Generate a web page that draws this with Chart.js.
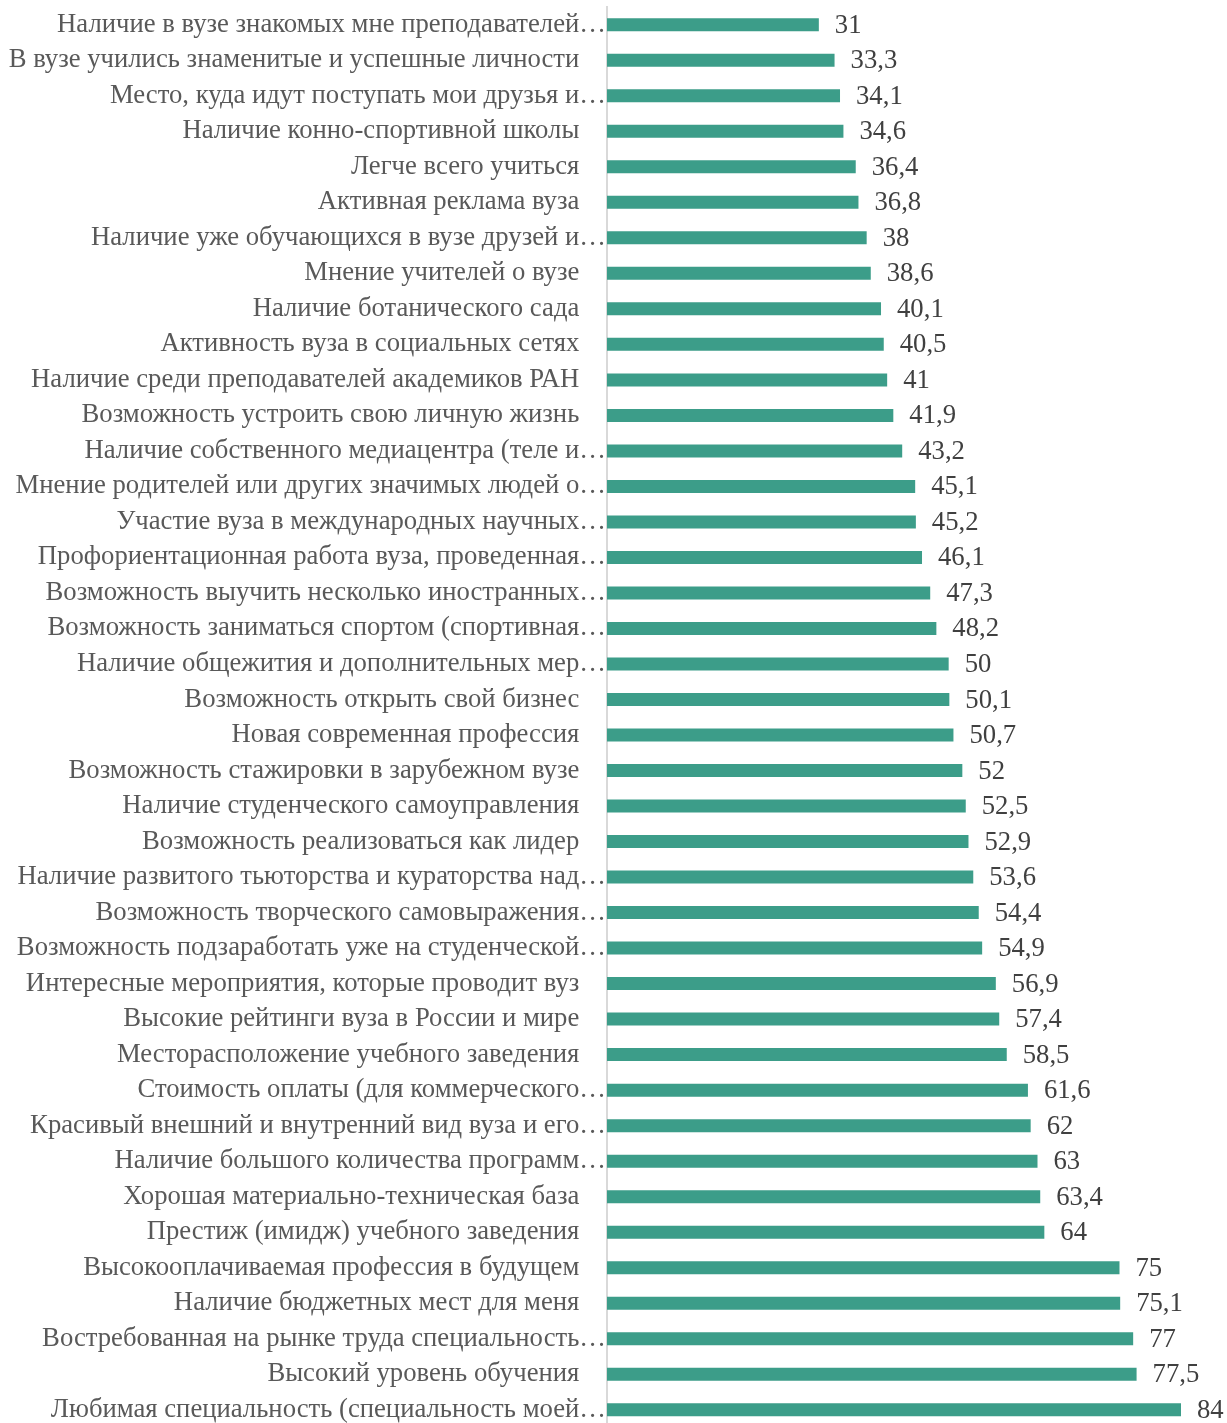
<!DOCTYPE html>
<html>
<head>
<meta charset="utf-8">
<script src="https://cdn.jsdelivr.net/npm/chart.js@4"></script>
<style>
  html, body { margin: 0; padding: 0; background: #fff; overflow: hidden; }
  #wrap { width: 1227px; height: 1430px; }
</style>
</head>
<body>
<div id="wrap"><canvas id="myChart" width="1227" height="1430"></canvas></div>
<script>
const labels = [
  'Наличие в вузе знакомых мне преподавателей…',
  'В вузе учились знаменитые и успешные личности',
  'Место, куда идут поступать мои друзья и…',
  'Наличие конно-спортивной школы',
  'Легче всего учиться',
  'Активная реклама вуза',
  'Наличие уже обучающихся в вузе друзей и…',
  'Мнение учителей о вузе',
  'Наличие ботанического сада',
  'Активность вуза в социальных сетях',
  'Наличие среди преподавателей академиков РАН',
  'Возможность устроить свою личную жизнь',
  'Наличие собственного медиацентра (теле и…',
  'Мнение родителей или других значимых людей о…',
  'Участие вуза в международных научных…',
  'Профориентационная работа вуза, проведенная…',
  'Возможность выучить несколько иностранных…',
  'Возможность заниматься спортом (спортивная…',
  'Наличие общежития и дополнительных мер…',
  'Возможность открыть свой бизнес',
  'Новая современная профессия',
  'Возможность стажировки в зарубежном вузе',
  'Наличие студенческого самоуправления',
  'Возможность реализоваться как лидер',
  'Наличие развитого тьюторства и кураторства над…',
  'Возможность творческого самовыражения…',
  'Возможность подзаработать уже на студенческой…',
  'Интересные мероприятия, которые проводит вуз',
  'Высокие рейтинги вуза в России и мире',
  'Месторасположение учебного заведения',
  'Стоимость оплаты (для коммерческого…',
  'Красивый внешний и внутренний вид вуза и его…',
  'Наличие большого количества программ…',
  'Хорошая материально-техническая база',
  'Престиж (имидж) учебного заведения',
  'Высокооплачиваемая профессия в будущем',
  'Наличие бюджетных мест для меня',
  'Востребованная на рынке труда специальность…',
  'Высокий уровень обучения',
  'Любимая специальность (специальность моей…'
]

const values = [
  31, 33.3, 34.1, 34.6, 36.4, 36.8, 38, 38.6, 40.1, 40.5,
  41, 41.9, 43.2, 45.1, 45.2, 46.1, 47.3, 48.2, 50, 50.1,
  50.7, 52, 52.5, 52.9, 53.6, 54.4, 54.9, 56.9, 57.4, 58.5,
  61.6, 62, 63, 63.4, 64, 75, 75.1, 77, 77.5, 84
]

const axisMin = 0
const axisMax = 90

const FONT = "'Liberation Serif', 'Times New Roman', serif"
const FONT_SIZE = 26.7

// value labels to the right of each bar, comma as decimal separator
const valueLabels = {
  id: 'valueLabels',
  afterDatasetsDraw(chart) {
    const ctx = chart.ctx
    const meta = chart.getDatasetMeta(0)
    ctx.save()
    ctx.font = `${FONT_SIZE}px ${FONT}`
    ctx.fillStyle = '#404040'
    ctx.textAlign = 'left'
    ctx.textBaseline = 'middle'
    meta.data.forEach((bar, i) => {
      const txt = String(values[i]).replace('.', ',')
      ctx.fillText(txt, bar.x + 16, bar.y + 1)
    })
    ctx.restore()
  }
}

const config = {
  type: 'bar',
  data: {
    labels: labels,
    datasets: [{
      data: values,
      backgroundColor: '#3c9d89',
      borderWidth: 0,
      categoryPercentage: 0.366,
      barPercentage: 1
    }]
  },
  options: {
    indexAxis: 'y',
    responsive: false,
    animation: false,
    layout: { padding: { top: 7, bottom: 2.5, right: 5, left: 0 } },
    plugins: {
      legend: { display: false },
      tooltip: { enabled: false }
    },
    scales: {
      x: {
        display: false,
        min: axisMin,
        max: axisMax
      },
      y: {
        afterFit: (scale) => {
          scale.width = 607
          scale.paddingTop = 0
          scale.paddingBottom = 0
        },
        grid: { display: false, drawTicks: false },
        border: { color: '#d9d9d9', width: 2 },
        ticks: {
          autoSkip: false,
          padding: 1,
          color: '#595959',
          font: { family: FONT, size: FONT_SIZE },
          // labels that fit keep a gap before the axis, like the original
          callback: function (v, i) {
            const l = labels[i]
            return l.endsWith('…') ? l : l + '\u2003'
          }
        }
      }
    }
  },
  plugins: [valueLabels]
}

new Chart(document.getElementById('myChart'), config)
</script>
</body>
</html>
